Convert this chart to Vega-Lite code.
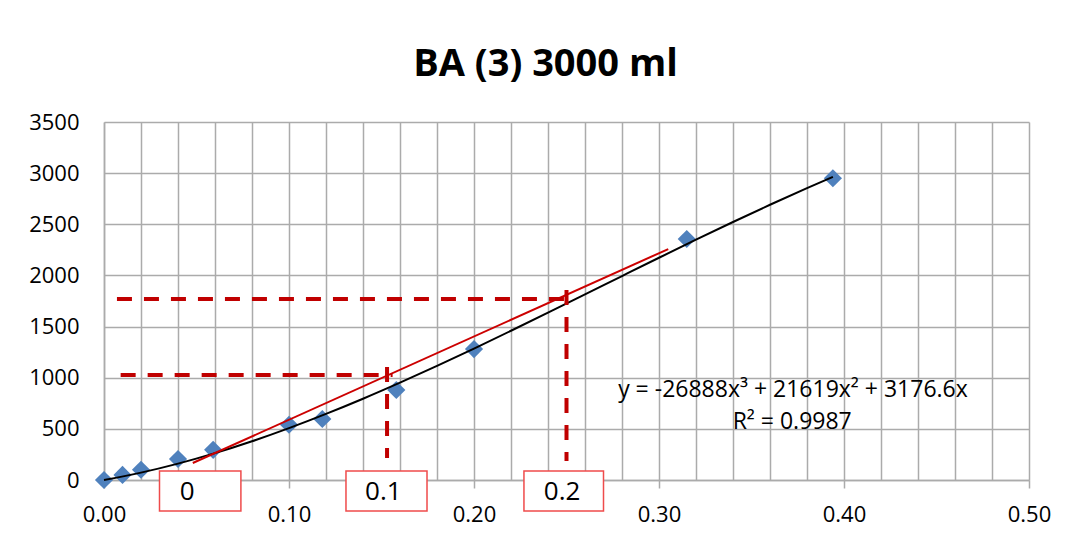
{
  "$schema": "https://vega.github.io/schema/vega-lite/v6.json",
  "autosize": "none",
  "width": 925,
  "height": 358,
  "padding": {"left": 104, "top": 122, "right": 46, "bottom": 61},
  "background": "white",
  "config": {"view": {"stroke": null}, "font": "Open Sans"},
  "title": {"text": "BA (3) 3000 ml", "font": "Open Sans", "fontSize": 38, "fontWeight": "bold", "color": "#000000", "anchor": "middle", "dx": -21, "baseline": "alphabetic", "offset": -3},
  "datasets": {
    "points": [
      {"x": 0.0, "y": 0},
      {"x": 0.01, "y": 50},
      {"x": 0.02, "y": 100},
      {"x": 0.04, "y": 205},
      {"x": 0.059, "y": 295},
      {"x": 0.10, "y": 540},
      {"x": 0.118, "y": 596},
      {"x": 0.158, "y": 880},
      {"x": 0.20, "y": 1280},
      {"x": 0.315, "y": 2356},
      {"x": 0.394, "y": 2950}
    ],
    "fit": [
      {"x": 0.0, "y": 0},
      {"x": 0.02, "y": 71.96},
      {"x": 0.04, "y": 159.93},
      {"x": 0.06, "y": 262.62},
      {"x": 0.08, "y": 378.72},
      {"x": 0.10, "y": 506.96},
      {"x": 0.12, "y": 646.04},
      {"x": 0.14, "y": 794.67},
      {"x": 0.16, "y": 951.58},
      {"x": 0.18, "y": 1115.44},
      {"x": 0.20, "y": 1284.98},
      {"x": 0.22, "y": 1458.91},
      {"x": 0.24, "y": 1635.93},
      {"x": 0.26, "y": 1814.78},
      {"x": 0.28, "y": 1994.13},
      {"x": 0.30, "y": 2172.71},
      {"x": 0.32, "y": 2349.23},
      {"x": 0.34, "y": 2522.39},
      {"x": 0.36, "y": 2690.91},
      {"x": 0.38, "y": 2853.49},
      {"x": 0.394, "y": 2963.07}
    ],
    "redline": [
      {"x": 0.048, "y": 166},
      {"x": 0.305, "y": 2258}
    ],
    "guides": [
      {"seg": "h1", "x": 0.009, "y": 1026},
      {"seg": "h1", "x": 0.156, "y": 1026},
      {"seg": "v1", "x": 0.153, "y": 1105},
      {"seg": "v1", "x": 0.153, "y": 215},
      {"seg": "h2", "x": 0.007, "y": 1769},
      {"seg": "h2", "x": 0.250, "y": 1769},
      {"seg": "v2", "x": 0.250, "y": 1857},
      {"seg": "v2", "x": 0.250, "y": 186}
    ],
    "boxes": [
      {"label": "0", "x1": 0.030, "x2": 0.074, "y1": 88, "y2": -303, "tx": 0.045, "ty": -120},
      {"label": "0.1", "x1": 0.1308, "x2": 0.1746, "y1": 88, "y2": -303, "tx": 0.151, "ty": -120},
      {"label": "0.2", "x1": 0.227, "x2": 0.270, "y1": 88, "y2": -303, "tx": 0.2476, "ty": -120}
    ],
    "eq": [
      {"text": "y = -26888x³ + 21619x² + 3176.6x", "x": 0.3724, "y": 880},
      {"text": "R² = 0.9987", "x": 0.372, "y": 567}
    ]
  },
  "layer": [
    {
      "data": {"name": "points"},
      "mark": {"type": "point", "shape": "diamond", "filled": true, "size": 330, "color": "#4f81bd", "opacity": 1},
      "encoding": {
        "x": {
          "field": "x", "type": "quantitative",
          "scale": {"domain": [0, 0.5], "nice": false, "zero": true},
          "axis": {
            "title": null,
            "tickCount": 40,
            "values": [0, 0.02, 0.04, 0.06, 0.08, 0.1, 0.12, 0.14, 0.16, 0.18, 0.2, 0.22, 0.24, 0.26, 0.28, 0.3, 0.32, 0.34, 0.36, 0.38, 0.4, 0.42, 0.44, 0.46, 0.48, 0.5],
            "labelExpr": "(round(datum.value*100) % 10 == 0) ? format(datum.value, '.2f') : ''",
            "labelFont": "Open Sans", "labelFontSize": 22, "labelColor": "#000000",
            "labelPadding": 16, "labelFlush": false, "labelOverlap": false,
            "grid": true, "gridColor": "#ababab", "gridWidth": 1.5,
            "domainColor": "#ababab", "domainWidth": 1.5,
            "tickColor": "#ababab", "tickWidth": 1.5, "tickSize": 8,
            "tickOpacity": {"condition": {"test": "round(datum.value*100) % 10 == 0", "value": 1}, "value": 0},
            "zindex": 0
          }
        },
        "y": {
          "field": "y", "type": "quantitative",
          "scale": {"domain": [0, 3500], "nice": false},
          "axis": {
            "title": null,
            "format": "d",
            "tickCount": 20,
            "values": [0, 500, 1000, 1500, 2000, 2500, 3000, 3500],
            "labelFont": "Open Sans", "labelFontSize": 22, "labelColor": "#000000",
            "labelPadding": 25, "ticks": false,
            "grid": true, "gridColor": "#ababab", "gridWidth": 1.5,
            "domainColor": "#ababab", "domainWidth": 1.5,
            "zindex": 0
          }
        }
      }
    },
    {
      "data": {"name": "fit"},
      "mark": {"type": "line", "color": "#000000", "strokeWidth": 2, "interpolate": "monotone"},
      "encoding": {
        "x": {"field": "x", "type": "quantitative"},
        "y": {"field": "y", "type": "quantitative"}
      }
    },
    {
      "data": {"name": "redline"},
      "mark": {"type": "line", "color": "#cc0000", "strokeWidth": 2},
      "encoding": {
        "x": {"field": "x", "type": "quantitative"},
        "y": {"field": "y", "type": "quantitative"}
      }
    },
    {
      "data": {"name": "guides"},
      "mark": {"type": "line", "color": "#c00000", "strokeWidth": 4, "strokeDash": [15, 12]},
      "encoding": {
        "x": {"field": "x", "type": "quantitative"},
        "y": {"field": "y", "type": "quantitative"},
        "detail": {"field": "seg", "type": "nominal"}
      }
    },
    {
      "data": {"name": "boxes"},
      "mark": {"type": "rect", "fill": "white", "stroke": "#ef4b4b", "strokeWidth": 1.5, "clip": false},
      "encoding": {
        "x": {"field": "x1", "type": "quantitative"},
        "x2": {"field": "x2"},
        "y": {"field": "y1", "type": "quantitative"},
        "y2": {"field": "y2"}
      }
    },
    {
      "data": {"name": "boxes"},
      "mark": {"type": "text", "font": "Open Sans", "fontSize": 26, "color": "#000000", "align": "center", "baseline": "middle"},
      "encoding": {
        "x": {"field": "tx", "type": "quantitative"},
        "y": {"field": "ty", "type": "quantitative"},
        "text": {"field": "label"}
      }
    },
    {
      "data": {"name": "eq"},
      "mark": {"type": "text", "font": "Open Sans", "fontSize": 23, "color": "#000000", "align": "center", "baseline": "middle"},
      "encoding": {
        "x": {"field": "x", "type": "quantitative"},
        "y": {"field": "y", "type": "quantitative"},
        "text": {"field": "text"}
      }
    }
  ]
}
